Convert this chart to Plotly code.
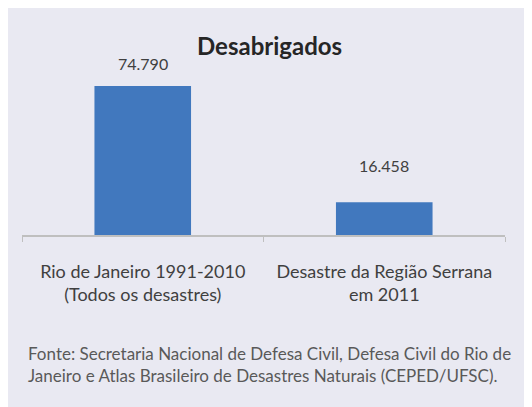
import plotly.graph_objects as go

categories = ["Rio de Janeiro 1991-2010<br>(Todos os desastres)",
              "Desastre da Região Serrana<br>em 2011"]
values = [74790, 16458]
title_text = "Desabrigados"
source_text = ("Fonte: Secretaria Nacional de Defesa Civil, Defesa Civil do Rio de<br>"
               "Janeiro e Atlas Brasileiro de Desastres Naturais (CEPED/UFSC).")

W, H = 532, 407
L, R, T, B = 14, 35, 52, 180
pw, ph = W - L - R, H - T - B

def px(x):
    return (x - L) / pw

def py(y):
    return (H - B - y) / ph

FONT = "Lato"
bar_color = "#4178BE"
bg_color = "#E9E9F2"

fig = go.Figure()
fig.add_trace(go.Bar(x=categories, y=values, marker=dict(color=bar_color, line=dict(width=0)),
                     width=0.4, hoverinfo="skip"))

label_shifts = [11, 25]
for c, v, s in zip(categories, values, label_shifts):
    fig.add_annotation(x=c, y=v, text=f"{v:,}".replace(",", "."), showarrow=False,
                       yanchor="bottom", yshift=s,
                       font=dict(family=FONT, size=16, color="#404040"))

fig.add_annotation(xref="paper", yref="paper", x=px(261), y=py(37), text=f"<b>{title_text}</b>",
                   showarrow=False, xanchor="center", yanchor="middle",
                   font=dict(family=FONT, size=24, color="#262626"))

fig.add_annotation(xref="paper", yref="paper", x=px(18), y=py(356), text=source_text,
                   showarrow=False, xanchor="left", yanchor="middle", align="left",
                   font=dict(family=FONT, size=17, color="#595959"))

fig.update_layout(
    width=W, height=H, margin=dict(l=L, r=R, t=T, b=B),
    paper_bgcolor=bg_color, plot_bgcolor="rgba(0,0,0,0)",
    showlegend=False, separators=",.",
    xaxis=dict(showline=True, linecolor="#BFBFBF", linewidth=2, ticks="outside",
               tickson="boundaries", ticklen=5, tickcolor="#BFBFBF", tickwidth=1,
               showgrid=False, ticklabelstandoff=19,
               tickfont=dict(family=FONT, size=18, color="#404040")),
    yaxis=dict(visible=False, range=[0, 74790 / py(78)], showgrid=False),
)

fig.write_html("out.html")
